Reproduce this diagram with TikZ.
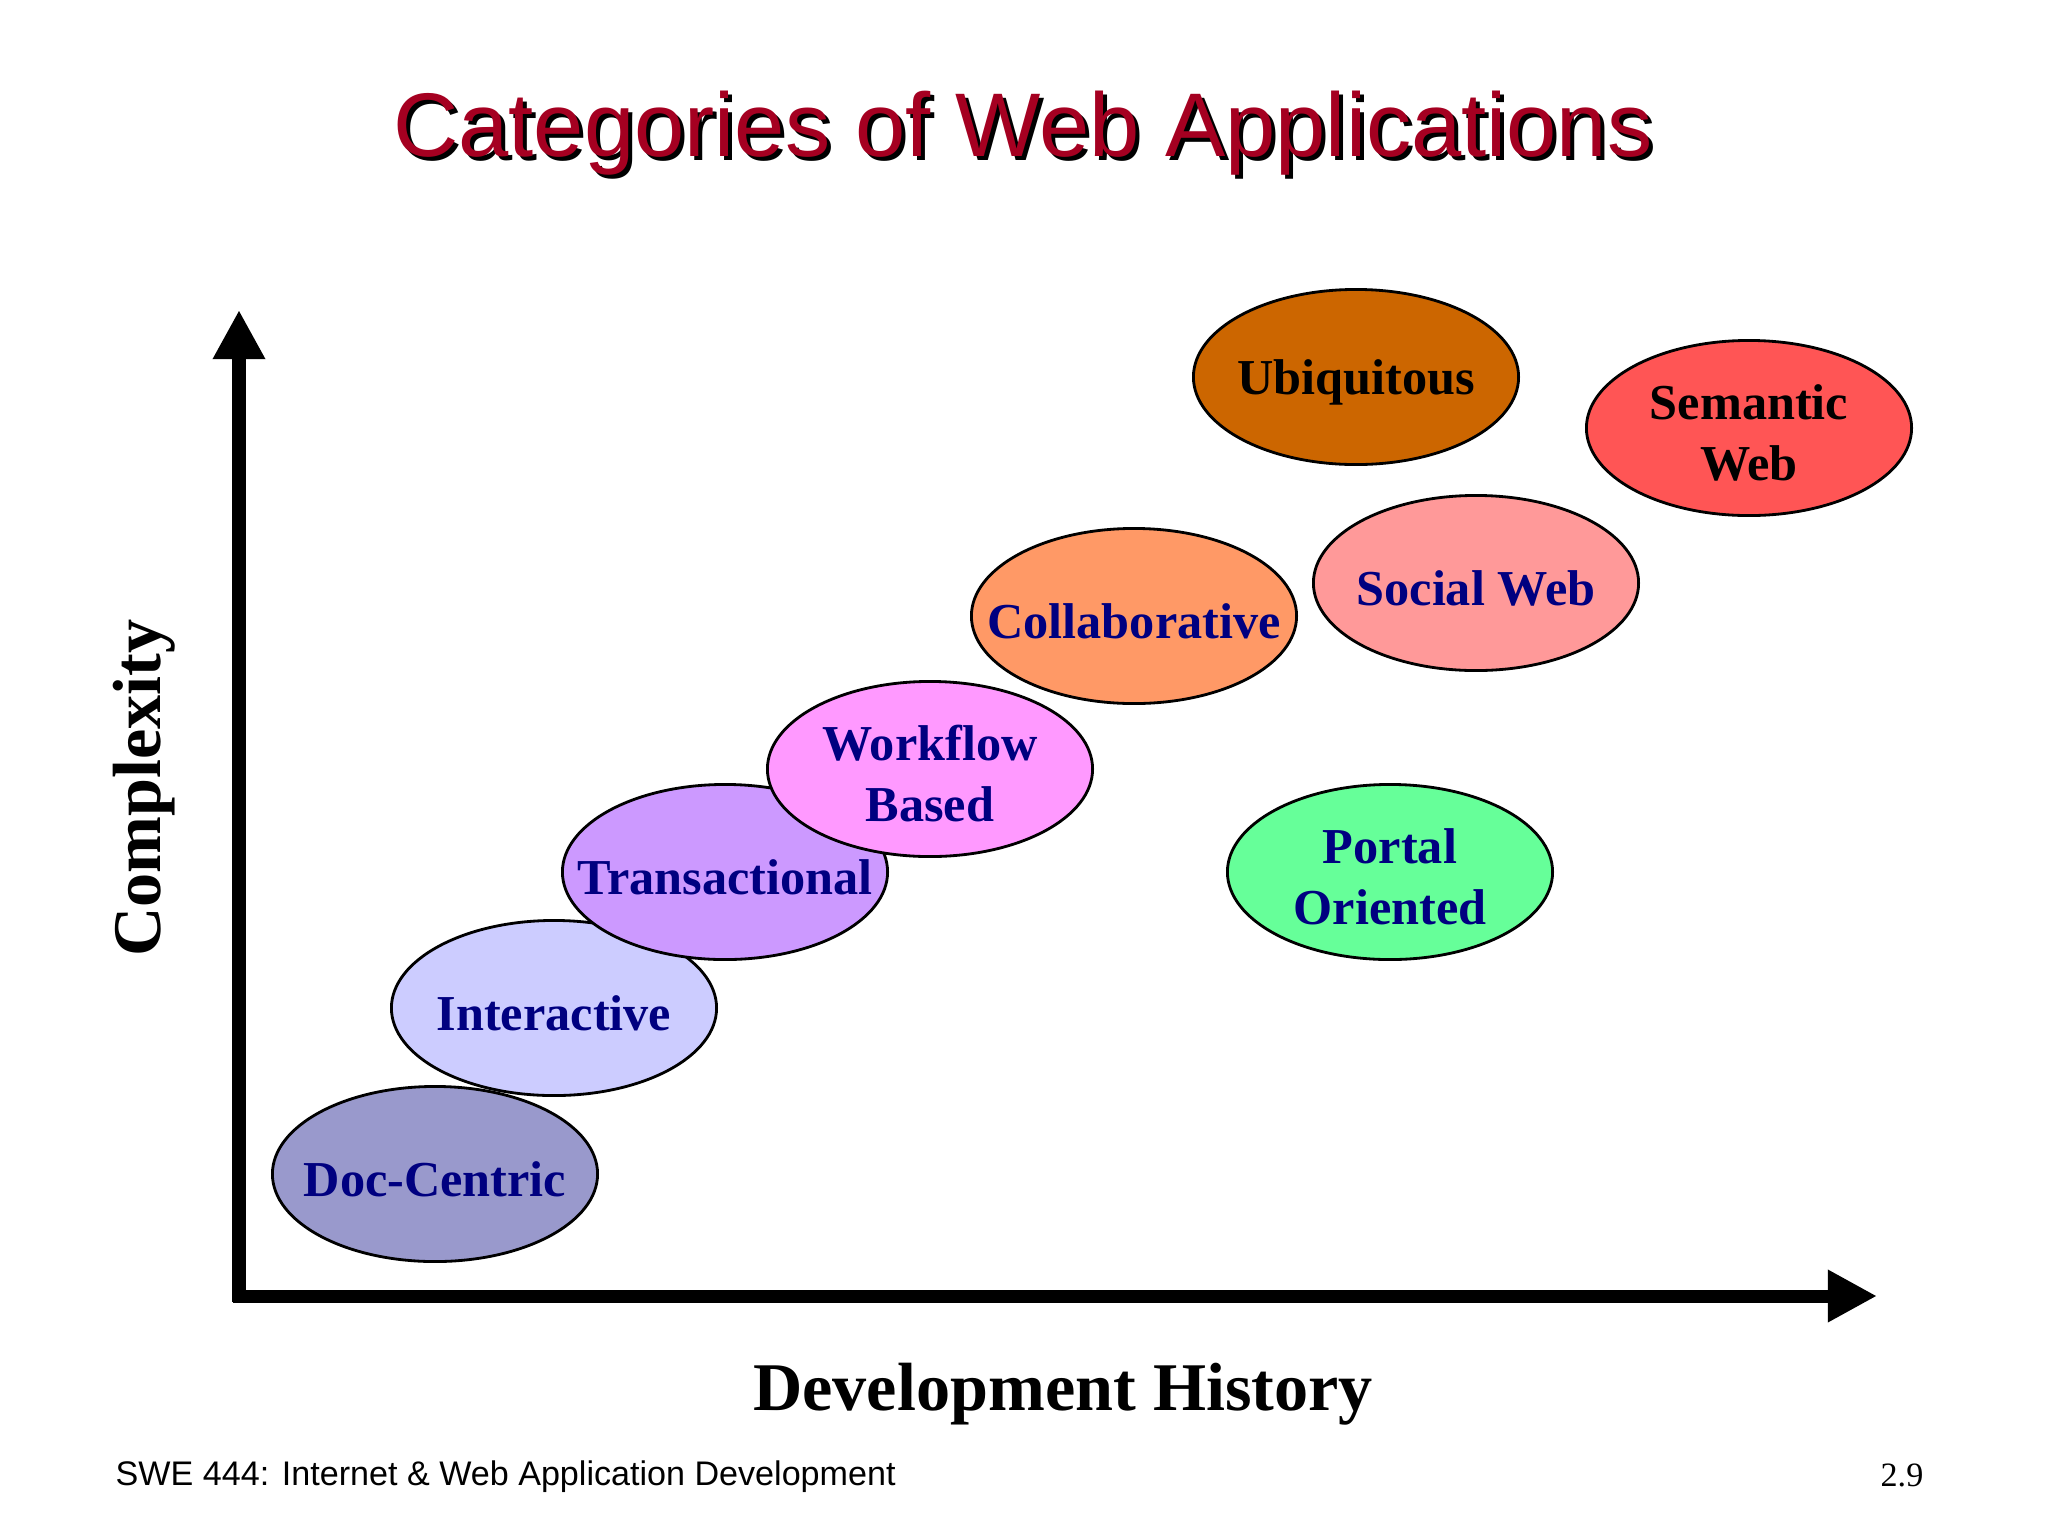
\documentclass[tikz,border=0pt]{standalone}
\usepackage{fontspec}
\setmainfont{Liberation Serif}
\newfontfamily\arialfont{Liberation Sans}
\usetikzlibrary{shapes.geometric,arrows.meta}
\definecolor{titlered}{HTML}{A50021}
\definecolor{navytext}{HTML}{000080}
\definecolor{cDoc}{HTML}{9999CC}
\definecolor{cInter}{HTML}{CCCCFF}
\definecolor{cTrans}{HTML}{CC99FF}
\definecolor{cWork}{HTML}{FF99FF}
\definecolor{cColl}{HTML}{FF9966}
\definecolor{cUbiq}{HTML}{CC6600}
\definecolor{cSocial}{HTML}{FF9999}
\definecolor{cSem}{HTML}{FF5555}
\definecolor{cPortal}{HTML}{66FF99}
\tikzset{
  catshape/.style={ellipse, draw=black, line width=0.8pt, minimum width=3.25cm, minimum height=1.75cm, inner sep=0pt},
  cattext/.style={font=\fontsize{14.3}{17.4}\selectfont\bfseries, text=navytext, align=center, inner sep=0pt, yshift=-1.4pt},
  axisline/.style={line width=3.7pt, -{Triangle[length=14pt,width=14pt]}},
  axislabel/.style={font=\fontsize{19.4}{23}\selectfont\bfseries, inner sep=0pt},
}
\begin{document}
\begin{tikzpicture}[x=0.01cm, y=-0.01cm]
\useasboundingbox (0,0) rectangle (2048,1536);
% title with shadow
\node[font=\arialfont\fontsize{25.7}{30}\selectfont, text=black, inner sep=0pt] (titleshadow) at (1027,137) {Categories of Web Applications};
\node[font=\arialfont\fontsize{25.7}{30}\selectfont, text=titlered, inner sep=0pt] (title) at (1023,133) {Categories of Web Applications};
% axes
\coordinate (origin) at (239,1296);
\coordinate (ybottom) at (239,1302);
\coordinate (ytip) at (239,310);
\coordinate (xstart) at (233,1296);
\coordinate (xtip) at (1877,1296);
\draw[axisline] (ybottom) -- (ytip);
\draw[axisline] (xstart) -- (xtip);
% categories
\node[catshape, fill=cUbiq] (ubiq) at (1356,377) {};
\node[cattext, text=black] (ubiqt) at (ubiq) {Ubiquitous};
\node[catshape, fill=cSem] (sem) at (1749,428) {};
\node[cattext, text=black] (semt) at (sem) {Semantic\\Web};
\node[catshape, fill=cSocial] (social) at (1476,583) {};
\node[cattext] (socialt) at (social) {Social Web};
\node[catshape, fill=cColl] (coll) at (1134,616) {};
\node[cattext] (collt) at (coll) {Collaborative};
\node[catshape, fill=cPortal] (portal) at (1390,872) {};
\node[cattext] (portalt) at (portal) {Portal\\Oriented};
\node[catshape, fill=cDoc] (doc) at (435,1174) {};
\node[cattext] (doct) at (doc) {Doc-Centric};
\node[catshape, fill=cInter] (inter) at (554,1008) {};
\node[cattext] (intert) at (inter) {Interactive};
\node[catshape, fill=cTrans] (trans) at (725,872) {};
\node[cattext] (transt) at (trans) {Transactional};
\node[catshape, fill=cWork] (work) at (930,769) {};
\node[cattext] (workt) at (work) {Workflow\\Based};
% axis labels
\node[axislabel, rotate=90] (complexity) at (144,788) {Complexity};
\node[axislabel] (devhist) at (1063,1394) {Development History};
% footer
\node[font=\arialfont\fontsize{9.7}{12}\selectfont, anchor=west, inner sep=0pt] (footer) at (115,1477) {SWE 444: Internet \& Web Application Development};
\node[font=\fontsize{9.7}{12}\selectfont, anchor=east, inner sep=0pt] (pagenum) at (1924,1475) {2.9};
\end{tikzpicture}
\end{document}
